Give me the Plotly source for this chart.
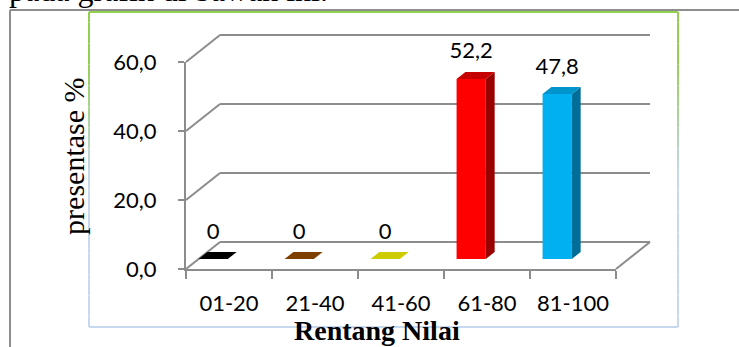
import plotly.graph_objects as go

# ---------------- data ----------------
categories = ["01-20", "21-40", "41-60", "61-80", "81-100"]
values = [0, 0, 0, 52.2, 47.8]
value_labels = ["0", "0", "0", "52,2", "47,8"]
front_colors = ["#000000", "#7F3F00", "#CCCC00", "#FF0000", "#00B0F0"]
top_colors = ["#000000", "#7F3F00", "#CCCC00", "#C40000", "#0094CC"]
side_colors = ["#000000", "#7F3F00", "#CCCC00", "#990000", "#006E99"]
y_ticks = [0, 20, 40, 60]
y_tick_text = ["0,0", "20,0", "40,0", "60,0"]
x_title = "Rentang Nilai"
y_title = "presentase %"
top_text = "pada grafik di bawah ini."

# ---------------- layout geometry (pixels) ----------------
W, H = 739, 347
FX0, FX1 = 186, 616          # front plane, x extent
FY0, FYTOP = 269, 62         # front plane, y of 0 and of y max
YMAX = 60
n = len(categories)
slot_px = (FX1 - FX0) / n
ppu = (FY0 - FYTOP) / YMAX
DEPTH_PX_X, DEPTH_PX_Y = 34, 27
ddx = DEPTH_PX_X / slot_px
ddy = DEPTH_PX_Y / ppu
F1, F2 = 0.37, 0.63          # bar front / back depth fraction
BW = 0.34                    # bar width in category units
LABEL_PX = 26

GRID = "#8C8C8C"
SANS = "Lato"
SERIF = "Liberation Serif"


def px(xp):
    return xp / W


def py(yp):
    return 1 - yp / H


x_range = [-FX0 / slot_px, (W - FX0) / slot_px]
y_range = [-(H - FY0) / ppu, FY0 / ppu]

fig = go.Figure()

# front faces of bars
b0 = F1 * ddy
xl = [i + F1 * ddx for i in range(n)]
fig.add_trace(go.Bar(
    x=[x + BW / 2 for x in xl], y=values, base=[b0] * n, width=BW,
    marker=dict(color=front_colors, line=dict(width=0)),
    xaxis="x", yaxis="y", showlegend=False, hoverinfo="skip"))

d = F2 - F1
for i, v in enumerate(values):
    x0 = xl[i]
    x1 = x0 + BW
    top = b0 + v
    if v > 0:
        fig.add_trace(go.Scatter(
            x=[x1, x1 + d * ddx, x1 + d * ddx, x1, x1],
            y=[b0, b0 + d * ddy, top + d * ddy, top, b0],
            fill="toself", fillcolor=side_colors[i], mode="lines",
            line=dict(width=0, color=side_colors[i]),
            xaxis="x", yaxis="y", showlegend=False, hoverinfo="skip"))
    fig.add_trace(go.Scatter(
        x=[x0, x1, x1 + d * ddx, x0 + d * ddx, x0],
        y=[top, top, top + d * ddy, top + d * ddy, top],
        fill="toself", fillcolor=top_colors[i], mode="lines",
        line=dict(width=0, color=top_colors[i]),
        xaxis="x", yaxis="y", showlegend=False, hoverinfo="skip"))

# value labels
fig.add_trace(go.Scatter(
    x=[x + BW / 2 for x in xl], y=[b0 + v + LABEL_PX / ppu for v in values],
    text=value_labels, mode="text", textposition="middle center",
    textfont=dict(family=SANS, size=22, color="#000000"),
    xaxis="x", yaxis="y", showlegend=False, hoverinfo="skip"))

# dummy trace for the front axes
fig.add_trace(go.Scatter(x=[0], y=[0], mode="markers", marker=dict(opacity=0),
                         xaxis="x2", yaxis="y2", showlegend=False, hoverinfo="skip"))

shapes = []
# back wall gridlines and floor
for v in y_ticks:
    shapes.append(dict(type="line", xref="x", yref="y", x0=0, y0=v, x1=ddx, y1=v + ddy,
                       line=dict(color=GRID, width=2), layer="below"))
    shapes.append(dict(type="line", xref="x", yref="y", x0=ddx, y0=v + ddy, x1=n + ddx, y1=v + ddy,
                       line=dict(color=GRID, width=2), layer="below"))
shapes.append(dict(type="line", xref="x", yref="y", x0=n, y0=0, x1=n + ddx, y1=ddy,
                   line=dict(color=GRID, width=2), layer="below"))

# outer frame
shapes.append(dict(type="line", xref="paper", yref="paper", x0=px(10), y0=py(10), x1=px(W + 5), y1=py(10),
                   line=dict(color="#8E8E8E", width=2)))
shapes.append(dict(type="line", xref="paper", yref="paper", x0=px(10), y0=py(10), x1=px(10), y1=py(H + 5),
                   line=dict(color="#8E8E8E", width=2)))

# inner chart box with green -> light blue edges
BX0, BX1, BY0, BY1 = 89, 678, 12, 327
green = (146, 208, 80)
blue = (198, 217, 241)


def mix(t):
    t = max(0.0, min(1.0, t))
    c = [round(green[k] + (blue[k] - green[k]) * t) for k in range(3)]
    return "rgb(%d,%d,%d)" % tuple(c)


shapes.append(dict(type="line", xref="paper", yref="paper", x0=px(BX0), y0=py(BY0), x1=px(BX1), y1=py(BY0),
                   line=dict(color=mix(0), width=2)))
shapes.append(dict(type="line", xref="paper", yref="paper", x0=px(BX0), y0=py(BY1), x1=px(BX1), y1=py(BY1),
                   line=dict(color=mix(1), width=2)))
segs = 30
for k in range(segs):
    ya = BY0 + (BY1 - BY0) * k / segs
    yb = BY0 + (BY1 - BY0) * (k + 1) / segs
    t = ((ya + yb) / 2 - 60) / 120
    for xx in (BX0, BX1):
        shapes.append(dict(type="line", xref="paper", yref="paper", x0=px(xx), y0=py(ya), x1=px(xx), y1=py(yb),
                           line=dict(color=mix(t), width=2)))

annotations = [
    dict(text=top_text, x=px(7), y=py(0.3 - 0.3375 * 32), xref="paper", yref="paper",
         xanchor="left", yanchor="middle", showarrow=False,
         font=dict(family=SERIF, size=32, color="#000000")),
    dict(text="<b>" + x_title + "</b>", x=px(377), y=py(340 - 0.3375 * 28), xref="paper", yref="paper",
         xanchor="center", yanchor="middle", showarrow=False,
         font=dict(family=SERIF, size=28, color="#000000")),
    dict(text=y_title, x=px(83 - 0.3375 * 30), y=py(156), xref="paper", yref="paper",
         xanchor="center", yanchor="middle", showarrow=False, textangle=-90,
         font=dict(family=SERIF, size=30, color="#000000")),
]

fig.update_layout(
    width=W, height=H, margin=dict(l=0, r=0, t=0, b=0, pad=0, autoexpand=False),
    paper_bgcolor="#FFFFFF", plot_bgcolor="rgba(0,0,0,0)",
    showlegend=False, shapes=shapes, annotations=annotations,
    xaxis=dict(domain=[0, 1], range=x_range, visible=False, fixedrange=True, automargin=False),
    yaxis=dict(domain=[0, 1], range=y_range, visible=False, fixedrange=True, automargin=False),
    xaxis2=dict(domain=[px(FX0), px(FX1)], range=[0, n], anchor="y2", automargin=False,
                showline=True, linecolor=GRID, linewidth=2, showgrid=False, zeroline=False,
                tickmode="array", tickvals=[i + 0.5 for i in range(n)], ticktext=categories,
                ticks="", ticklabelstandoff=14,
                tickfont=dict(family=SANS, size=22, color="#000000"),
                minor=dict(tickmode="array", tickvals=list(range(n + 1)), ticks="outside",
                           ticklen=8, tickwidth=2, tickcolor=GRID, showgrid=False),
                fixedrange=True),
    yaxis2=dict(domain=[1 - FY0 / H, 1 - FYTOP / H], range=[0, YMAX], anchor="x2", automargin=False,
                showline=True, linecolor=GRID, linewidth=2, showgrid=False, zeroline=False,
                tickmode="array", tickvals=y_ticks, ticktext=y_tick_text,
                ticks="outside", ticklen=6, tickwidth=2, tickcolor=GRID, ticklabelstandoff=17,
                tickfont=dict(family=SANS, size=22, color="#000000"),
                fixedrange=True),
)

fig.write_html("out.html", config={"displayModeBar": False})
